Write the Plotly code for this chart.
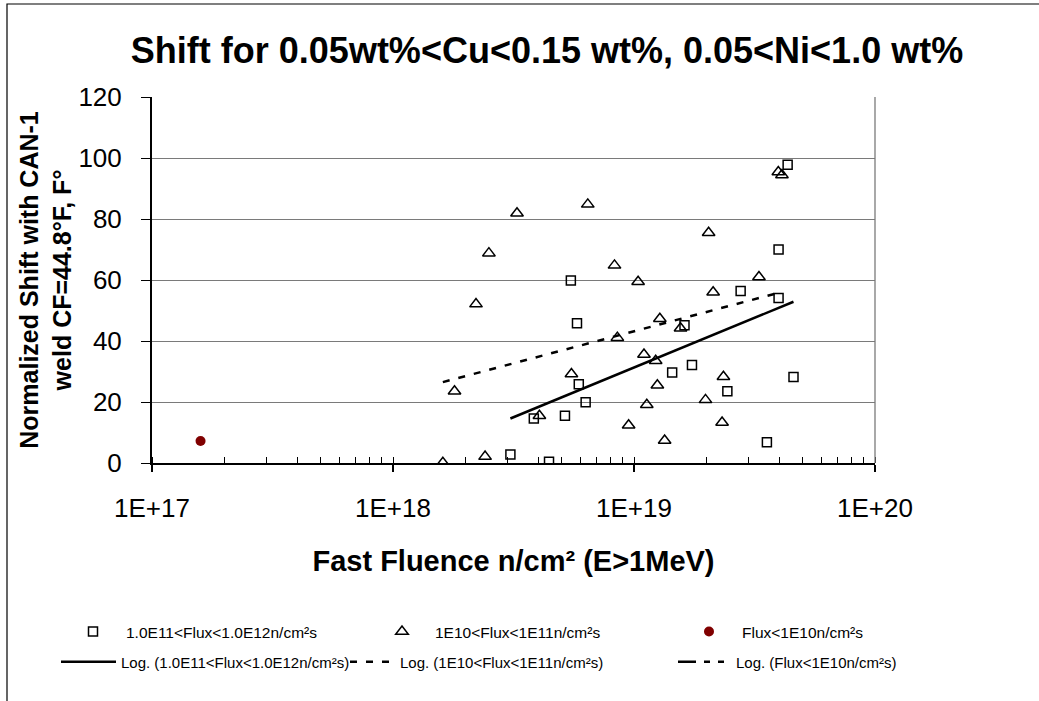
import numpy as np
import plotly.graph_objects as go

# ---- data ----
sq_fluence = [3.07e18, 3.84e18, 4.44e18, 5.17e18, 5.47e18, 5.8e18, 5.9e18, 6.3e18,
              1.44e19, 1.62e19, 1.74e19, 2.44e19, 2.77e19, 3.56e19, 3.98e19, 3.98e19,
              4.34e19, 4.59e19]
sq_shift = [2.8, 14.6, 0.4, 15.5, 59.8, 45.8, 25.8, 19.9,
            29.7, 45.2, 32.1, 23.5, 56.4, 6.8, 70.0, 54.1,
            97.8, 28.2]

tri_fluence = [1.61e18, 1.8e18, 2.21e18, 2.41e18, 2.5e18, 3.27e18, 4.05e18, 5.5e18,
               6.43e18, 8.3e18, 8.53e18, 9.5e18, 1.04e19, 1.1e19, 1.13e19, 1.23e19,
               1.25e19, 1.28e19, 1.34e19, 1.56e19, 1.98e19, 2.04e19, 2.13e19, 2.32e19,
               2.35e19, 3.3e19, 3.97e19, 4.11e19]
tri_shift = [0.1, 23.5, 52.1, 2.1, 68.8, 81.9, 15.5, 29.2,
             84.8, 64.8, 41.1, 12.4, 59.4, 35.6, 19.1, 33.5,
             25.5, 47.3, 7.4, 44.2, 20.7, 75.5, 56.0, 13.3,
             28.3, 61.0, 95.4, 94.4]

red_fluence = [1.59e17]
red_shift = [7.2]

names = ["1.0E11<Flux<1.0E12n/cm²s", "1E10<Flux<1E11n/cm²s", "Flux<1E10n/cm²s"]
x_ticks = [1e17, 1e18, 1e19, 1e20]
x_ticklabels = ["1E+17", "1E+18", "1E+19", "1E+20"]
y_ticks = [0, 20, 40, 60, 80, 100, 120]

FONT = "Liberation Sans, Arial, sans-serif"
W, H = 1039, 701
L, R, T, B = 152, 875, 97, 463


def log_trend(xs, ys, n=60):
    xs = np.asarray(xs, float)
    ys = np.asarray(ys, float)
    a, b = np.polyfit(np.log(xs), ys, 1)
    xx = np.logspace(np.log10(xs.min()), np.log10(xs.max()), n)
    return xx, a * np.log(xx) + b


fig = go.Figure()

fig.add_trace(go.Scatter(x=sq_fluence, y=sq_shift, mode="markers", name=names[0],
                         marker=dict(symbol="square-open", size=9, color="black",
                                     line=dict(width=1.5, color="black")),
                         legend="legend"))
fig.add_trace(go.Scatter(x=tri_fluence, y=tri_shift, mode="markers", name=names[1],
                         marker=dict(symbol="triangle-up-open", size=11, color="black",
                                     line=dict(width=1.5, color="black")),
                         legend="legend2"))
fig.add_trace(go.Scatter(x=red_fluence, y=red_shift, mode="markers", name=names[2],
                         marker=dict(symbol="circle", size=10, color="#800000"),
                         legend="legend3"))

tx, ty = log_trend(sq_fluence, sq_shift)
fig.add_trace(go.Scatter(x=tx, y=ty, mode="lines", name="Log. (" + names[0] + ")",
                         line=dict(color="black", width=2.5), legend="legend4"))
tx, ty = log_trend(tri_fluence, tri_shift)
fig.add_trace(go.Scatter(x=tx, y=ty, mode="lines", name="Log. (" + names[1] + ")",
                         line=dict(color="black", width=2.5, dash="7px,9px"),
                         legend="legend5"))
# a single point: no line can be drawn, legend entry only
fig.add_trace(go.Scatter(x=red_fluence, y=red_shift, mode="lines",
                         name="Log. (" + names[2] + ")",
                         line=dict(color="black", width=2.5,
                                   dash="18px,8px,6px,8px,6px,8px"),
                         legend="legend6"))


def leg(x0, yc, itemw, size):
    return dict(orientation="h", xref="container", yref="container",
                x=x0 / W, xanchor="left", y=1 - yc / H, yanchor="middle",
                itemwidth=itemw, font=dict(size=size, family=FONT, color="black"),
                bgcolor="rgba(0,0,0,0)", borderwidth=0)


fig.update_layout(
    width=W, height=H,
    margin=dict(l=L, r=W - R, t=T, b=H - B),
    paper_bgcolor="white", plot_bgcolor="white",
    font=dict(family=FONT, color="black"),
    title=dict(text="<b>Shift for 0.05wt%<Cu<0.15 wt%, 0.05<Ni<1.0 wt%</b>",
               font=dict(size=36, family=FONT, color="black"),
               x=547 / W, xanchor="center", xref="container",
               y=1 - 50 / H, yanchor="middle", yref="container"),
    xaxis=dict(type="log", range=[17, 20], tickvals=x_ticks, ticktext=x_ticklabels,
               ticks="outside", ticklen=7, tickwidth=1.5, tickcolor="black",
               showline=True, linecolor="black", linewidth=2,
               showgrid=False, zeroline=False,
               tickfont=dict(size=26, family=FONT), ticklabelstandoff=14,
               minor=dict(ticks="inside", ticklen=6, tickwidth=1.2, tickcolor="black",
                          dtick="D1", showgrid=False),
               title=dict(text="<b>Fast Fluence n/cm² (E>1MeV)</b>",
                          font=dict(size=29, family=FONT), standoff=28)),
    yaxis=dict(range=[0, 120], tickvals=y_ticks,
               ticks="outside", ticklen=9, tickwidth=1.2, tickcolor="black",
               showline=True, linecolor="black", linewidth=2,
               showgrid=True, gridcolor="#7a7a7a", gridwidth=1.3, zeroline=False,
               tickfont=dict(size=26, family=FONT), ticklabelstandoff=14,
               title=dict(text="<b>Normalized Shift with CAN-1<br>weld CF=44.8°F, F°</b>",
                          font=dict(size=25, family=FONT), standoff=0)),
    legend=leg(60, 632, 56, 15.5),
    legend2=leg(369, 632, 56, 15.5),
    legend3=leg(676, 632, 56, 15.5),
    legend4=leg(56, 662, 55, 15),
    legend5=leg(345, 662, 45, 15),
    legend6=leg(673, 662, 53, 15),
    showlegend=True,
)

# right border of the plot area (grey)
fig.add_shape(type="line", xref="paper", yref="paper", x0=1, x1=1, y0=0, y1=1,
              line=dict(color="#7a7a7a", width=1.3))
# outer chart frame
fig.add_shape(type="rect", xref="paper", yref="paper",
              x0=(7 - L) / (R - L), x1=(1045 - L) / (R - L),
              y0=-(710 - B) / (B - T), y1=1 + (T - 4) / (B - T),
              line=dict(color="black", width=1.2), fillcolor="rgba(0,0,0,0)", layer="below")

fig.write_html("out.html")
